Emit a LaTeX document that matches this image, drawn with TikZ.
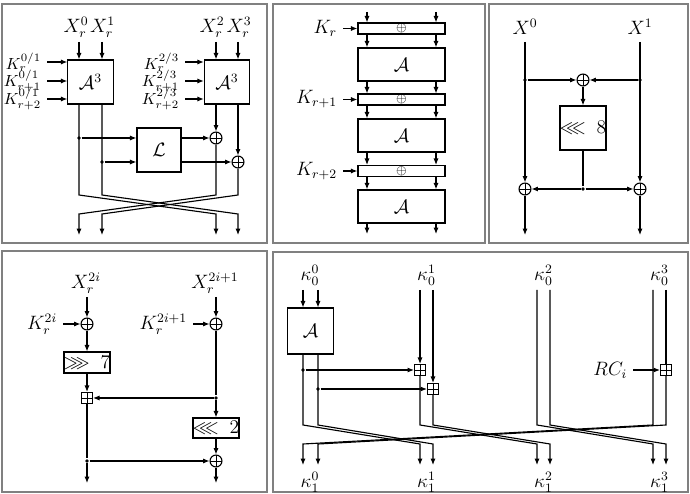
\documentclass[tikz,border=0pt]{standalone}
\usepackage{amssymb}
\usetikzlibrary{arrows.meta,positioning}

\begin{document}
\begin{tikzpicture}[x=0.62pt, y=-0.62pt,
    line width=0.7pt,
    frame/.style={draw=black!50, line width=0.8pt},
    box/.style={
        draw,
        align=center,
        inner sep=0pt,
        font=\large
    },
    bar/.style={
        draw,
        inner sep=0pt,
        minimum width=54pt,
        minimum height=6.8pt,
        font=\footnotesize
    },
    xorop/.style={
        circle, draw, inner sep=0pt, minimum size=7.4pt,
        path picture={\draw[line width=0.5pt]
            (path picture bounding box.north) -- (path picture bounding box.south)
            (path picture bounding box.west) -- (path picture bounding box.east);}
    },
    addop/.style={
        rectangle, draw, inner sep=0pt, minimum size=6.8pt,
        path picture={\draw[line width=0.5pt]
            (path picture bounding box.north) -- (path picture bounding box.south)
            (path picture bounding box.west) -- (path picture bounding box.east);}
    },
    dot/.style={circle, fill, inner sep=0pt, minimum size=2.4pt},
    >={Latex[length=4pt,width=3.2pt]}
]
\useasboundingbox (0,0) rectangle (690,494);
\draw[frame] (2,4) rectangle (267,243);
\draw[frame] (273,4) rectangle (485,243);
\draw[frame] (489,4) rectangle (688,243);
\draw[frame] (2,251) rectangle (267,492);
\draw[frame] (273,252) rectangle (688,492);

% three-round block
\node[font=\large] (x0) at (76,27) {$X_r^0$};
\node[font=\large] (x1) at (102.5,27) {$X_r^1$};
\node[font=\large] (x2) at (212,27) {$X_r^2$};
\node[font=\large] (x3) at (239,27) {$X_r^3$};
\coordinate (ta0) at (79,42);
\coordinate (ta1) at (102,42);
\coordinate (ta2) at (216,42);
\coordinate (ta3) at (238,42);
\node[box, minimum width=28pt, minimum height=27.3pt] (a1) at (90.5,82) {$\mathcal{A}^3$};
\node[box, minimum width=28pt, minimum height=27.3pt] (a2) at (227,82) {$\mathcal{A}^3$};
\draw[->] (ta0) -- (ta0 |- a1.north);
\draw[->] (ta1) -- (ta1 |- a1.north);
\draw[->] (ta2) -- (ta2 |- a2.north);
\draw[->] (ta3) -- (ta3 |- a2.north);
\node[anchor=east] (k01a) at (47,62) {$K_r^{0/1}$};
\node[anchor=east] (k01b) at (47,81) {$K_{r+1}^{0/1}$};
\node[anchor=east] (k01c) at (47,99) {$K_{r+2}^{0/1}$};
\node[anchor=east] (k23a) at (185,62) {$K_r^{2/3}$};
\node[anchor=east] (k23b) at (185,81) {$K_{r+1}^{2/3}$};
\node[anchor=east] (k23c) at (185,99) {$K_{r+2}^{2/3}$};
\draw[->] (k01a) -- (k01a -| a1.west);
\draw[->] (k01b) -- (k01b -| a1.west);
\draw[->] (k01c) -- (k01c -| a1.west);
\draw[->] (k23a) -- (k23a -| a2.west);
\draw[->] (k23b) -- (k23b -| a2.west);
\draw[->] (k23c) -- (k23c -| a2.west);
\node[box, minimum size=27.3pt] (lin) at (159,150) {$\mathcal{L}$};
\node[dot] (d0) at (79,138) {};
\node[dot] (d1) at (102,162) {};
\node[xorop] (o2) at (216,138) {};
\node[xorop] (o3) at (238,162) {};
\draw[->] (d0) -- (d0 -| lin.west);
\draw[->] (d1) -- (d1 -| lin.west);
\draw[->] (lin.east |- o2) -- (o2);
\draw[->] (lin.east |- o3) -- (o3);
\draw[->] (a2.south -| o2) -- (o2);
\draw[->] (a2.south -| o3) -- (o3);
\coordinate (c0) at (79,195);
\coordinate (c1) at (102,195);
\coordinate (c2) at (216,195);
\coordinate (c3) at (238,195);
\coordinate (e0) at (79,214);
\coordinate (e1) at (102,214);
\coordinate (e2) at (216,214);
\coordinate (e3) at (238,214);
\coordinate (y0) at (79,235);
\coordinate (y1) at (102,235);
\coordinate (y2) at (216,235);
\coordinate (y3) at (238,235);
\draw[->] (a1.south -| c0) -- (c0) -- (e2) -- (y2);
\draw[->] (a1.south -| c1) -- (c1) -- (e3) -- (y3);
\draw[->] (o2) -- (c2) -- (e0) -- (y0);
\draw[->] (o3) -- (c3) -- (e1) -- (y1);

% key schedule of A^3
\coordinate (pt0) at (367,12);
\coordinate (pt1) at (436,12);
\node[bar] (r0) at (401.5,28.5) {$\oplus$};
\node[box, minimum width=54pt, minimum height=20.5pt] (ma0) at (401.5,64.5) {$\mathcal{A}$};
\node[bar] (r1) at (401.5,99.5) {$\oplus$};
\node[box, minimum width=54pt, minimum height=20.5pt] (ma1) at (401.5,135.5) {$\mathcal{A}$};
\node[bar] (r2) at (401.5,171) {$\oplus$};
\node[box, minimum width=54pt, minimum height=20.5pt] (ma2) at (401.5,206.5) {$\mathcal{A}$};
\coordinate (pb0) at (367,234);
\coordinate (pb1) at (436,234);
\node[anchor=east, font=\large] (kr0) at (343,28.5) {$K_r$};
\node[anchor=east, font=\large] (kr1) at (343,99.5) {$K_{r+1}$};
\node[anchor=east, font=\large] (kr2) at (343,171) {$K_{r+2}$};
\draw[->] (kr0) -- (kr0 -| r0.west);
\draw[->] (kr1) -- (kr1 -| r1.west);
\draw[->] (kr2) -- (kr2 -| r2.west);
\draw[->] (pt0) -- (pt0 |- r0.north);
\draw[->] (pt1) -- (pt1 |- r0.north);
\draw[->] (r0.south -| pt0) -- (ma0.north -| pt0);
\draw[->] (r0.south -| pt1) -- (ma0.north -| pt1);
\draw[->] (ma0.south -| pt0) -- (r1.north -| pt0);
\draw[->] (ma0.south -| pt1) -- (r1.north -| pt1);
\draw[->] (r1.south -| pt0) -- (ma1.north -| pt0);
\draw[->] (r1.south -| pt1) -- (ma1.north -| pt1);
\draw[->] (ma1.south -| pt0) -- (r2.north -| pt0);
\draw[->] (ma1.south -| pt1) -- (r2.north -| pt1);
\draw[->] (r2.south -| pt0) -- (ma2.north -| pt0);
\draw[->] (r2.south -| pt1) -- (ma2.north -| pt1);
\draw[->] (ma2.south -| pb0) -- (pb0);
\draw[->] (ma2.south -| pb1) -- (pb1);

% linear layer
\node[font=\large] (xa) at (525,27) {$X^0$};
\node[font=\large] (xb) at (640,27) {$X^1$};
\coordinate (st0) at (525,42);
\coordinate (st1) at (640,42);
\node[dot] (g0) at (525,80) {};
\node[dot] (g1) at (640,80) {};
\node[xorop] (h0) at (583,80) {};
\draw[->] (g0) -- (h0);
\draw[->] (g1) -- (h0);
\node[box, minimum size=27.3pt] (rot) at (583,128) {$\lll\;8$};
\draw[->] (h0) -- (rot);
\node[dot] (g2) at (583,189) {};
\draw (rot) -- (g2);
\node[xorop] (h1) at (525,189) {};
\node[xorop] (h2) at (640,189) {};
\draw[->] (g2) -- (h1);
\draw[->] (g2) -- (h2);
\draw[->] (st0) -- (h1);
\draw[->] (st1) -- (h2);
\coordinate (u0) at (525,235);
\coordinate (u1) at (640,235);
\draw[->] (h1) -- (u0);
\draw[->] (h2) -- (u1);

% ARX round
\node[font=\large] (xc) at (86,283) {$X_r^{2i}$};
\node[font=\large] (xd) at (215,283) {$X_r^{2i+1}$};
\coordinate (wt0) at (87,297);
\coordinate (wt1) at (216,297);
\node[xorop] (v0) at (87,324) {};
\node[xorop] (v1) at (216,324) {};
\draw[->] (wt0) -- (v0);
\draw[->] (wt1) -- (v1);
\node[anchor=east, font=\large] (kc) at (63,324) {$K_r^{2i}$};
\node[anchor=east, font=\large] (kd) at (193,324) {$K_r^{2i+1}$};
\draw[->] (kc) -- (v0);
\draw[->] (kd) -- (v1);
\node[box, minimum width=26.7pt, minimum height=13pt] (sr) at (87,362.5) {$\ggg\;7$};
\draw[->] (v0) -- (sr);
\node[addop] (pa) at (87,398) {};
\draw[->] (sr) -- (pa);
\node[dot] (f0) at (216,398) {};
\draw (v1) -- (f0);
\draw[->] (f0) -- (pa);
\node[box, minimum width=26pt, minimum height=12.4pt] (sl) at (216,428) {$\lll\;2$};
\draw[->] (f0) -- (sl);
\node[xorop] (v2) at (216,461) {};
\draw[->] (sl) -- (v2);
\node[dot] (f1) at (87,461) {};
\draw (pa) -- (f1);
\draw[->] (f1) -- (v2);
\coordinate (z0) at (87,483);
\coordinate (z1) at (216,483);
\draw[->] (f1) -- (z0);
\draw[->] (v2) -- (z1);

% key schedule
\node[font=\large] (ka0) at (310,275) {$\kappa_0^0$};
\node[font=\large] (ka1) at (426.5,275) {$\kappa_0^1$};
\node[font=\large] (ka2) at (543.5,275) {$\kappa_0^2$};
\node[font=\large] (ka3) at (659.5,275) {$\kappa_0^3$};
\node[font=\large] (kb0) at (310,482) {$\kappa_1^0$};
\node[font=\large] (kb1) at (426.5,482) {$\kappa_1^1$};
\node[font=\large] (kb2) at (543.5,482) {$\kappa_1^2$};
\node[font=\large] (kb3) at (659.5,482) {$\kappa_1^3$};
\coordinate (n0) at (303,290);
\coordinate (n1) at (318,290);
\coordinate (n2) at (420,290);
\coordinate (n3) at (433,290);
\coordinate (n4) at (537,290);
\coordinate (n5) at (550,290);
\coordinate (n6) at (653,290);
\coordinate (n7) at (666,290);
\node[box, minimum width=28pt, minimum height=28.5pt] (kap) at (310.5,331) {$\mathcal{A}$};
\draw[->] (n0) -- (n0 |- kap.north);
\draw[->] (n1) -- (n1 |- kap.north);
\node[dot] (j0) at (303,370) {};
\node[dot] (j1) at (318,389) {};
\node[addop] (ad0) at (420,370) {};
\node[addop] (ad1) at (433,389) {};
\node[addop] (ad2) at (666,370) {};
\draw[->] (j0) -- (ad0);
\draw[->] (j1) -- (ad1);
\draw[->] (n2) -- (ad0);
\draw[->] (n3) -- (ad1);
\draw (n7) -- (ad2);
\node[anchor=east, font=\large] (rc) at (633,370) {$RC_i$};
\draw[->] (rc) -- (ad2);
\coordinate (l0) at (303,425);
\coordinate (l1) at (318,425);
\coordinate (l2) at (420,425);
\coordinate (l3) at (433,425);
\coordinate (l4) at (537,425);
\coordinate (l5) at (550,425);
\coordinate (l6) at (653,425);
\coordinate (l7) at (666,425);
\coordinate (q0) at (303,444);
\coordinate (q1) at (318,444);
\coordinate (q2) at (420,444);
\coordinate (q3) at (433,444);
\coordinate (q4) at (537,444);
\coordinate (q5) at (550,444);
\coordinate (q6) at (653,444);
\coordinate (q7) at (666,444);
\coordinate (b0) at (303,465);
\coordinate (b1) at (318,465);
\coordinate (b2) at (420,465);
\coordinate (b3) at (433,465);
\coordinate (b4) at (537,465);
\coordinate (b5) at (550,465);
\coordinate (b6) at (653,465);
\coordinate (b7) at (666,465);
\draw[->] (kap.south -| j0) -- (l0) -- (q2) -- (b2);
\draw[->] (kap.south -| j1) -- (l1) -- (q3) -- (b3);
\draw[->] (ad0) -- (l2) -- (q4) -- (b4);
\draw[->] (ad1) -- (l3) -- (q5) -- (b5);
\draw[->] (n4) -- (l4) -- (q6) -- (b6);
\draw[->] (n5) -- (l5) -- (q7) -- (b7);
\draw[->] (n6) -- (l6) -- (q0) -- (b0);
\draw[->] (ad2) -- (l7) -- (q1) -- (b1);
\end{tikzpicture}
\end{document}
